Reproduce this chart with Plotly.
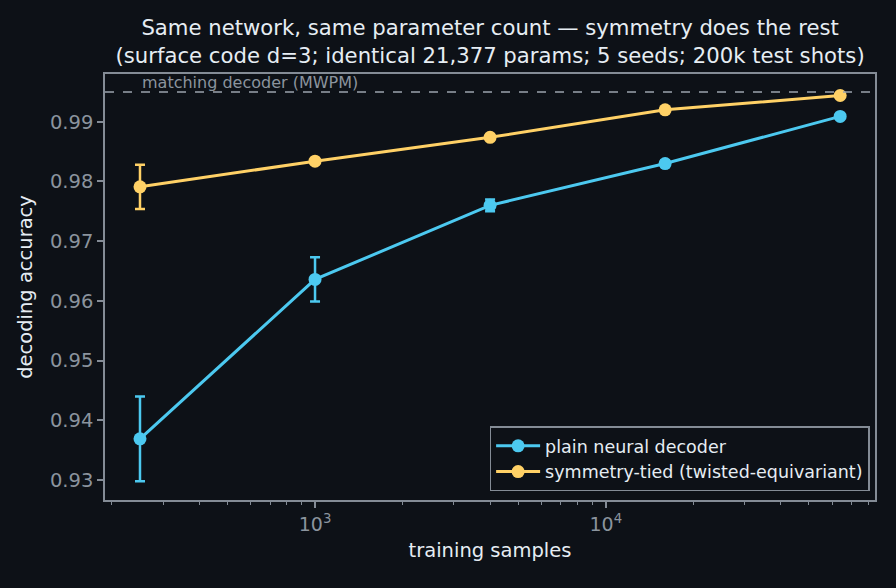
import math
import plotly.graph_objects as go

samples = [250, 1000, 4000, 16000, 64000]
plain_acc = [0.9369, 0.9636, 0.9760, 0.9830, 0.9909]
plain_err = [0.0071, 0.0037, 0.0010, 0.0005, 0.0003]
tied_acc = [0.9791, 0.9834, 0.9874, 0.9920, 0.9944]
tied_err = [0.0037, 0.0004, 0.0004, 0.0003, 0.0002]
mwpm_acc = 0.995

y_ticks = [0.93, 0.94, 0.95, 0.96, 0.97, 0.98, 0.99]
x_major = [1000, 10000]
x_major_text = ["10<sup>3</sup>", "10<sup>4</sup>"]
x_minor = [k * 10 ** e for e in (2, 3, 4) for k in range(2, 10)]

BG = "#0d1117"
AX = "#848c96"
TXT = "#e6edf3"
TICK = "#8b949e"
BLUE = "#4cc9f0"
YEL = "#ffd166"
FONT = "DejaVu Sans"

fig = go.Figure()
fig.add_trace(go.Scatter(
    x=samples, y=plain_acc, mode="lines+markers", name="plain neural decoder",
    line=dict(color=BLUE, width=3), marker=dict(size=13, color=BLUE),
    error_y=dict(type="data", array=plain_err, color=BLUE, thickness=2.5, width=5),
))
fig.add_trace(go.Scatter(
    x=samples, y=tied_acc, mode="lines+markers", name="symmetry-tied (twisted-equivariant)",
    line=dict(color=YEL, width=3), marker=dict(size=13, color=YEL),
    error_y=dict(type="data", array=tied_err, color=YEL, thickness=2.5, width=5),
))
fig.add_hline(y=mwpm_acc, line=dict(color="#9aa3ad", width=1.5, dash="dash"))
fig.add_annotation(x=math.log10(samples[0]), xref="x", y=mwpm_acc, yref="y", text="matching decoder (MWPM)",
                   showarrow=False, xanchor="left", yanchor="bottom", yshift=-2,
                   font=dict(family=FONT, size=16, color=TICK))

fig.update_layout(
    width=896, height=588,
    paper_bgcolor=BG, plot_bgcolor=BG,
    font=dict(family=FONT, color=TXT, size=17),
    margin=dict(l=105, r=21, t=74, b=88),
    title=dict(
        text="Same network, same parameter count — symmetry does the rest<br>(surface code d=3; identical 21,377 params; 5 seeds; 200k test shots)",
        x=0.547, xanchor="center", y=0.94, yanchor="top",
        font=dict(family=FONT, size=21.2, color=TXT),
    ),
    showlegend=True,
    legend=dict(
        x=0.993, y=0.02, xanchor="right", yanchor="bottom",
        bgcolor=BG, bordercolor=AX, borderwidth=1.5,
        font=dict(family=FONT, size=17.5, color=TXT),
        tracegroupgap=0, itemwidth=44,
    ),
)
fig.update_xaxes(
    type="log", range=[2.2776, 4.926],
    tickvals=x_major, ticktext=x_major_text,
    ticks="outside", ticklen=6, tickwidth=1.5, tickcolor=AX,
    minor=dict(tickvals=x_minor, ticks="outside", ticklen=3.5, tickwidth=1, tickcolor=AX),
    showgrid=False, zeroline=False,
    showline=True, linecolor=AX, linewidth=1.5, mirror=True,
    tickfont=dict(family=FONT, size=19, color=TICK),
    title=dict(text="training samples", font=dict(family=FONT, size=19.5, color=TXT), standoff=10),
)
fig.update_yaxes(
    range=[0.92665, 0.998],
    tickvals=y_ticks, tickformat=".2f",
    ticks="outside", ticklen=6, tickwidth=1.5, tickcolor=AX,
    showgrid=False, zeroline=False,
    showline=True, linecolor=AX, linewidth=1.5, mirror=True,
    tickfont=dict(family=FONT, size=19.5, color=TICK),
    title=dict(text="decoding accuracy", font=dict(family=FONT, size=19.5, color=TXT), standoff=12),
)

fig.write_html("out.html")
